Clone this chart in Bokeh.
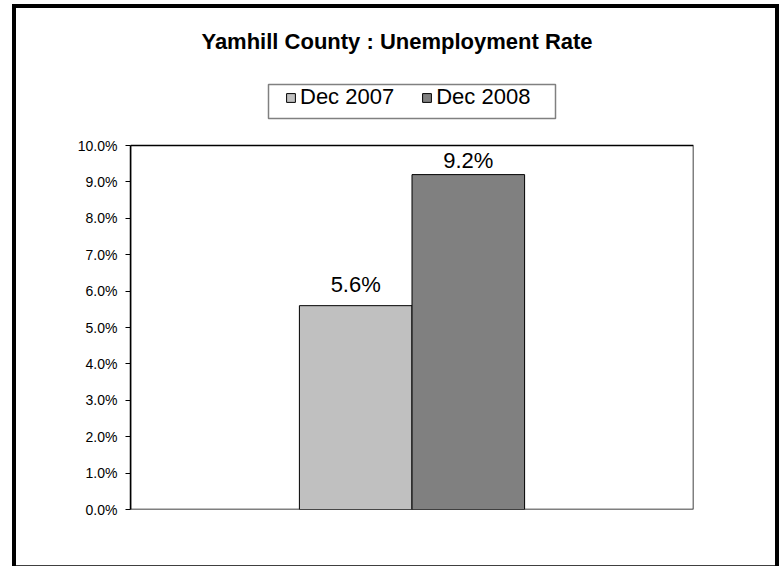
from bokeh.plotting import figure
from bokeh.models import (ColumnDataSource, Legend, LegendItem, Label,
                          FixedTicker, PrintfTickFormatter, Range1d)
from bokeh.core.properties import value
from bokeh.embed import file_html
from bokeh.resources import INLINE

# ---- data ----
title_text = "Yamhill County : Unemployment Rate"
series_names = ["Dec 2007", "Dec 2008"]
series_values = [5.6, 9.2]          # unemployment rate, percent
series_colors = ["#C0C0C0", "#808080"]
y_ticks = [0, 1, 2, 3, 4, 5, 6, 7, 8, 9, 10]

# ---- layout (canvas pixels) ----
W, H = 780, 566
FL, FR, FB = 130, 693, 509          # plot-area left/right/bottom (canvas px)
AREA_TOP = 145                      # plot-area top (canvas px) for the 10% line
Y_MAX = y_ticks[-1]
PX = (FB - AREA_TOP) / Y_MAX        # pixels per percentage point
FONT = "Liberation Sans"

def dx(cx):   # canvas x -> data x
    return (cx - FL) / (FR - FL)

def dy(cy):   # canvas y -> data y
    return (FB - cy) / PX

# outer chart border drawn as CSS background layers behind a transparent canvas
bg = ("linear-gradient(#000,#000) 12px 4px / 4px 562px no-repeat, "
      "linear-gradient(#000,#000) 12px 4px / 767px 4px no-repeat, "
      "linear-gradient(#000,#000) 775px 4px / 4px 562px no-repeat, "
      "linear-gradient(#404040,#404040) 12px 565px / 767px 1px no-repeat, "
      "white")

p = figure(width=W, height=H, output_backend="svg", toolbar_location=None,
           title_location=None,
           x_range=Range1d(0, 1), y_range=Range1d(0, dy(0)),
           frame_width=FR - FL, frame_height=FB,
           min_border_left=FL, min_border_right=W - FR,
           min_border_top=0, min_border_bottom=H - FB,
           styles={"background": bg})
p.background_fill_color = None
p.border_fill_color = None
p.outline_line_color = None
p.xgrid.visible = False
p.ygrid.visible = False
p.xaxis.visible = False

ya = p.yaxis[0]
ya.bounds = (0, Y_MAX)
ya.ticker = FixedTicker(ticks=y_ticks)
ya.formatter = PrintfTickFormatter(format="%.1f%%")
ya.axis_line_color = "black"
ya.axis_line_width = 1.5
ya.major_tick_line_color = "black"
ya.major_tick_out = 5
ya.major_tick_in = 0
ya.minor_tick_line_color = None
ya.major_label_standoff = 8
ya.major_label_text_font = FONT
ya.major_label_text_font_size = "14px"
ya.major_label_text_color = "black"

# plot-area outline
p.quad(left=0, right=1, bottom=0, top=Y_MAX, fill_color="white",
       line_color="black", line_width=1.5)

# bars: one category, two series side by side
n = len(series_values)
bar_w = 0.2
lefts = [0.5 - bar_w * n / 2 + i * bar_w for i in range(n)]
src = ColumnDataSource(dict(
    label=["%.1f%%" % v for v in series_values],
    ly=[min(v + 0.59, 9.59) for v in series_values],
    lx=[l + bar_w / 2 for l in lefts],
))
renderers = []
for i in range(n):
    r = p.quad(left=lefts[i], right=lefts[i] + bar_w, bottom=0, top=series_values[i],
               fill_color=series_colors[i], line_color="black", line_width=1)
    renderers.append(r)

p.text(x="lx", y="ly", text="label", source=src, text_align="center",
       text_baseline="middle", text_font=value(FONT), text_font_size="22px",
       text_color="black")

# title
p.add_layout(Label(x=dx(396.5), y=dy(41), text=title_text,
                   text_align="center", text_baseline="middle",
                   text_font=FONT, text_font_size="22px", text_font_style="bold",
                   text_color="black"))

# legend box
p.quad(left=dx(268), right=dx(555), top=dy(84), bottom=dy(118),
       fill_color="white", line_color="#808080", line_width=1.5)

legend = Legend(items=[LegendItem(label=series_names[i], renderers=[renderers[i]])
                       for i in range(n)],
                orientation="horizontal", location=(285 - FL, FB - 110),
                padding=0, spacing=27, margin=0, label_standoff=4,
                glyph_width=11, glyph_height=11,
                label_text_font=FONT, label_text_font_size="22px",
                label_text_color="black",
                border_line_color=None, background_fill_alpha=0)
p.add_layout(legend)

open("out.html", "w").write(file_html(p, INLINE))
